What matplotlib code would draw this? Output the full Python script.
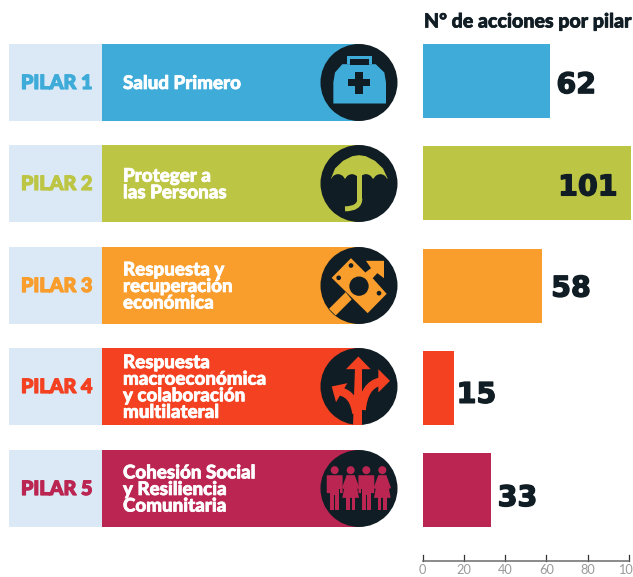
import matplotlib
matplotlib.use('Agg')
import matplotlib.pyplot as plt
from matplotlib.patches import Rectangle, Circle, Polygon, PathPatch, FancyBboxPatch
from matplotlib.path import Path
import matplotlib.patheffects as pe

W, H = 633, 577

PILARES = ['PILAR 1', 'PILAR 2', 'PILAR 3', 'PILAR 4', 'PILAR 5']
NOMBRES = ['Salud Primero',
           'Proteger a\nlas Personas',
           'Respuesta y\nrecuperación\neconómica',
           'Respuesta\nmacroeconómica\ny colaboración\nmultilateral',
           'Cohesión Social\ny Resiliencia\nComunitaria']
ACCIONES = [62, 101, 58, 15, 33]
COLORES = ['#3fabd9', '#bdc644', '#f99d2c', '#f34121', '#bb2552']
TICKS = [0, 20, 40, 60, 80, 100]
TITULO = 'Nº de acciones por pilar'

DARK = '#111d24'
LIGHT = '#dbe9f6'
FILA_TOP = [44, 145, 247, 348, 450]
FILA_H = 77
R = 38.5


def heavy(w, c):
    return [pe.withStroke(linewidth=w, foreground=c)]


fig = plt.figure(figsize=(W / 100, H / 100), dpi=100)

# px axes for the left side panels
bg = fig.add_axes([0, 0, 1, 1])
bg.set_xlim(0, W)
bg.set_ylim(H, 0)
bg.axis('off')


def poly(pts, cx, cy, col, z=4):
    # pts are in 3x zoom units relative to the circle centre
    bg.add_patch(Polygon([(cx + x / 3, cy + y / 3) for x, y in pts], closed=True, fc=col, ec='none', zorder=z))


def disc(x, y, r, cx, cy, col, z=5):
    bg.add_patch(Circle((cx + x / 3, cy + y / 3), r / 3, fc=col, ec='none', zorder=z))


def curve(pts, cx, cy, col, lw, z=4):
    verts = [(cx + x / 3, cy + y / 3) for x, y in pts]
    codes = [Path.MOVETO] + [Path.CURVE3] * (len(pts) - 1)
    bg.add_patch(PathPatch(Path(verts, codes), fc='none', ec=col, lw=lw, capstyle='butt', zorder=z))


def icon_salud(cx, cy, c):
    poly([(-35, -80), (39, -80), (39, -55), (-35, -55)], cx, cy, c)
    poly([(-27, -72), (31, -72), (31, -52), (-27, -52)], cx, cy, DARK, 5)
    poly([(-77, 63), (81, 63), (81, 0), (76, -30), (50, -55), (-50, -55), (-72, -30), (-77, 0)], cx, cy, c)
    poly([(-11, -32), (11, -32), (11, -11), (33, -11), (33, 11), (11, 11), (11, 33), (-11, 33), (-11, 11),
          (-33, 11), (-33, -11), (-11, -11)], cx, cy, DARK, 5)


def icon_paraguas(cx, cy, c):
    poly([(-84, -15), (-72, -45), (-48, -68), (-20, -82), (0, -85), (20, -82), (48, -68), (72, -45), (86, -15)],
         cx, cy, c)
    for x in [-63, -21, 21, 64]:
        disc(x, -7, 21, cx, cy, DARK, 5)
    bg.add_patch(Rectangle((cx - 5 / 3, cy - 30 / 3), 15 / 3, 78 / 3, fc=c, ec='none', zorder=7))
    curve([(2.5, 45), (2.5, 76), (-42, 76)], cx, cy, c, 3.6, 7)


def icon_economia(cx, cy, c):
    poly([(-82, -23), (-24, -82), (19, -39), (36, -52), (21, -74), (75, -74), (75, -22), (55, -37), (41, -22),
          (83, 25), (26, 83)], cx, cy, c)
    poly([(-90, 70), (-40, 20), (-22, 42), (-70, 90)], cx, cy, c)
    disc(0, 2, 29, cx, cy, DARK)
    disc(-24, -60, 7, cx, cy, DARK)
    disc(-61, -23, 7, cx, cy, DARK)
    disc(60, 23, 7, cx, cy, DARK)


def icon_caminos(cx, cy, c):
    poly([(-2, -90), (35, -52), (-39, -52)], cx, cy, c)
    poly([(-17, 114), (10, 114), (10, -55), (-12, -55)], cx, cy, c)
    curve([(8, 70), (15, -5), (65, -15)], cx, cy, c, 6)
    poly([(93, -17), (58, -52), (58, 18)], cx, cy, c)
    curve([(-8, 80), (-15, 25), (-55, 15)], cx, cy, c, 6)
    poly([(-82, 0), (-35, -10), (-69, 47)], cx, cy, c)


def hombre(x, cx, cy, c):
    disc(x, -55, 12, cx, cy, c)
    bg.add_patch(FancyBboxPatch((cx + (x - 22) / 3, cy - 38 / 3), 44 / 3, 50 / 3, boxstyle='round,pad=0.6',
                                fc=c, ec='none', zorder=5))
    poly([(x - 13, 0), (x + 13, 0), (x + 13, 65), (x + 2, 65), (x + 2, 20), (x - 2, 20), (x - 2, 65), (x - 13, 65)],
         cx, cy, c, 5)
    poly([(x - 15, 0), (x - 13, 0), (x - 13, 15), (x - 15, 15)], cx, cy, DARK, 6)
    poly([(x + 13, 0), (x + 15, 0), (x + 15, 15), (x + 13, 15)], cx, cy, DARK, 6)


def mujer(x, cx, cy, c):
    disc(x, -55, 12, cx, cy, c)
    poly([(x - 12, -40), (x + 12, -40), (x + 25, 28), (x - 25, 28)], cx, cy, c, 5)
    poly([(x - 14, 25), (x - 3, 25), (x - 3, 65), (x - 14, 65)], cx, cy, c, 5)
    poly([(x + 3, 25), (x + 14, 25), (x + 14, 65), (x + 3, 65)], cx, cy, c, 5)
    poly([(x - 12, -40), (x - 26, -2), (x - 20, 2), (x - 7, -30)], cx, cy, c, 5)
    poly([(x + 12, -40), (x + 26, -2), (x + 20, 2), (x + 7, -30)], cx, cy, c, 5)


def icon_personas(cx, cy, c):
    hombre(-73, cx, cy, c)
    mujer(-25, cx, cy, c)
    hombre(22, cx, cy, c)
    mujer(70, cx, cy, c)


ICONOS = [icon_salud, icon_paraguas, icon_economia, icon_caminos, icon_personas]

for i in range(len(PILARES)):
    top = FILA_TOP[i]
    col = COLORES[i]
    cy = top + FILA_H / 2
    bg.add_patch(Rectangle((9, top), 93, FILA_H, fc=LIGHT, ec='none'))
    bg.add_patch(Rectangle((102, top), 257, FILA_H, fc=col, ec='none'))
    bg.add_patch(Circle((359, cy), R, fc=DARK, ec='none', zorder=3))
    ICONOS[i](359, cy, col)
    bg.text(21, cy, PILARES[i], color=col, fontsize=14.2, family='Lato', weight='black', va='center', ha='left',
            path_effects=heavy(0.9, col))
    bg.text(123, cy + 1, NOMBRES[i], color='white', fontsize=13.5, family='Lato', weight='black', va='center',
            ha='left', linespacing=0.97, path_effects=heavy(0.5, 'white'))

bg.text(424, 21, TITULO, color=DARK, fontsize=14.1, family='Lato', weight='black', va='center', ha='left',
        path_effects=heavy(0.5, DARK))

# the bars: 206 px for 0-100, baseline at y=561
ax = fig.add_axes([422.7 / W, (H - 561) / H, 206 / W, (561 - 30) / H])
ax.patch.set_alpha(0)
ypos = list(range(len(ACCIONES)))
ax.barh(ypos, ACCIONES, height=0.724, color=COLORES, clip_on=False, zorder=2)
ax.set_xlim(0, 100)
ax.set_ylim(4.694, -0.5)
ax.set_xticks(TICKS)
ax.set_yticks([])
for s in ['top', 'left', 'right']:
    ax.spines[s].set_visible(False)
ax.spines['bottom'].set_color('#6b6b6b')
ax.spines['bottom'].set_linewidth(1.1)
ax.tick_params(axis='x', direction='out', length=0, pad=2.5)
for t in TICKS:
    ax.plot([t, t], [4.694, 4.635], color='#333333', lw=0.9, clip_on=False)
for lab in ax.get_xticklabels():
    lab.set_fontsize(9.2)
    lab.set_color('#9a9a9a')
    lab.set_family('Lato')

# value labels, 101 sits inside its bar
despl = [(6, -4), (-13, -4), (9, -3), (3, -7), (7, -8)]
for i, v in enumerate(ACCIONES):
    ha = 'right' if v > 100 else 'left'
    ax.annotate(str(v), (v, i), xytext=despl[i], textcoords='offset pixels', color=DARK, fontsize=20.5,
                family='DejaVu Sans', weight='bold', va='center', ha=ha, annotation_clip=False,
                path_effects=heavy(1.0, DARK))

fig.savefig('out.png', dpi=100)
